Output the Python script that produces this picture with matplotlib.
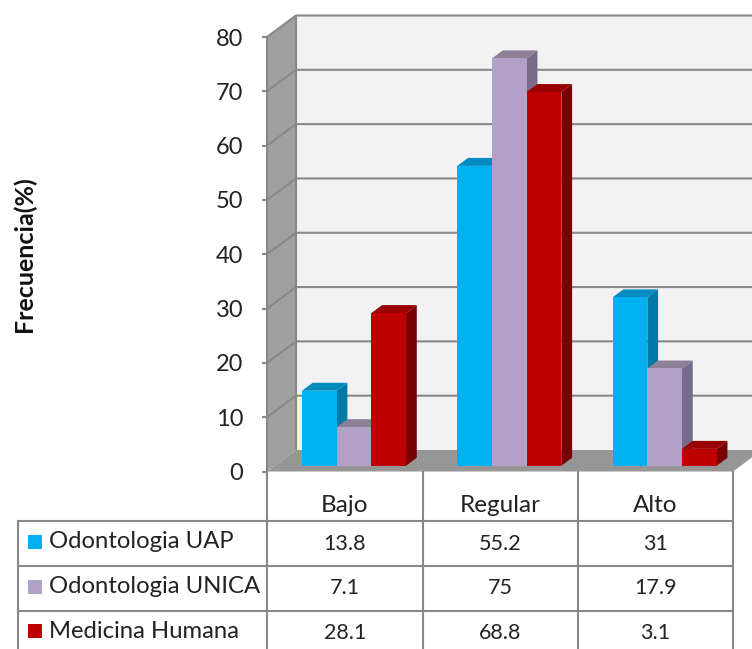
import matplotlib
matplotlib.use("Agg")
import matplotlib.pyplot as plt
from matplotlib.patches import Polygon, Rectangle

plt.rcParams['font.family'] = ['Lato', 'DejaVu Sans']

# --- Data ---
categories = ["Bajo", "Regular", "Alto"]
series_names = ["Odontologia UAP", "Odontologia UNICA", "Medicina Humana"]
uap = [13.8, 55.2, 31]
unica = [7.1, 75, 17.9]
medicina = [28.1, 68.8, 3.1]
y_ticks = [0, 10, 20, 30, 40, 50, 60, 70, 80]

# front, top and side shades per series
front_colors = ["#00B0F0", "#B1A0C7", "#C00000"]
top_colors = ["#008CBF", "#8D8099", "#990000"]
side_colors = ["#0079A6", "#786A8A", "#780000"]

LINE = "#888888"
WALL = "#F2F2F2"
SIDE_WALL = "#A0A0A0"
FLOOR = "#969696"
TEXT = "#222222"

W, H = 752, 649
fig = plt.figure(figsize=(W / 100, H / 100), dpi=100)

# front plane of the 3D box, in pixels
left, right, top, bottom = 267, 733, 37, 471.5
ax = fig.add_axes([left / W, 1 - bottom / H, (right - left) / W, (bottom - top) / H])
ax.set_xlim(0, 3)
ax.set_ylim(0, 80)
ax.patch.set_visible(False)
for s in ax.spines.values():
    s.set_visible(False)

# depth of the box in data units
px_per_cat = (right - left) / 3
dx = 29 / px_per_cat
dy = 21.5 / ((bottom - top) / 80)


def poly(pts, color, z):
    ax.add_patch(Polygon(pts, closed=True, facecolor=color, edgecolor="none", zorder=z, clip_on=False))


def line(xs, ys, z=2):
    ax.plot(xs, ys, color=LINE, lw=1.5, zorder=z, clip_on=False, solid_capstyle="butt")


# --- Walls and floor ---
poly([(dx, dy), (3.2, dy), (3.2, 80 + dy), (dx, 80 + dy)], WALL, 1)
poly([(0, 0), (dx, dy), (dx, 80 + dy), (0, 80)], SIDE_WALL, 1)
poly([(0, 0), (3, 0), (3 + dx, dy), (dx, dy)], FLOOR, 1)

for v in y_ticks[1:]:
    line([0, dx, 3.2], [v, v + dy, v + dy])
line([dx, dx], [dy, 80 + dy])
line([0, 0], [0, 80])

# --- Bars ---
bar_w = 34.7 / px_per_cat
bar_start = 0.27   # where the bars sit inside the depth of the box
bar_depth = 0.37
ox, oy = dx * bar_start + 1.5 / px_per_cat, dy * bar_start
bx, by = dx * bar_depth, dy * bar_depth

z = 3
for i in range(len(categories)):
    for j, values in enumerate([uap, unica, medicina]):
        x0 = i + 0.5 + (j - 1.5) * bar_w + ox
        x1 = x0 + bar_w
        v = values[i]
        poly([(x0, v + oy), (x1, v + oy), (x1 + bx, v + oy + by), (x0 + bx, v + oy + by)], top_colors[j], z)
        poly([(x1, oy), (x1 + bx, oy + by), (x1 + bx, v + oy + by), (x1, v + oy)], side_colors[j], z)
        ax.bar(x0, v, bar_w, bottom=oy, align="edge", color=front_colors[j], zorder=z + 0.5, clip_on=False)
        z += 1

# --- Axis ---
ax.set_xticks([])
ax.set_yticks(y_ticks)
ax.tick_params(axis="y", length=3.6, width=1.5, color=LINE, pad=13.5, labelsize=17, labelcolor=TEXT)
ax.text((24 - left) / px_per_cat, 40, "Frecuencia(%)", rotation=90, ha="center", va="center",
        fontsize=18, fontweight="bold", color="#111111")

# --- Data table, drawn in pixel coordinates ---
tb = fig.add_axes([0, 0, 1, 1])
tb.set_xlim(0, W)
tb.set_ylim(H, 0)
tb.axis("off")
tb.patch.set_visible(False)

col_x = [267, 422.5, 578, 733]
row_y = [520.5, 565.5, 610.5, 655]
table_left = 18

for x in col_x:
    tb.plot([x, x], [471.5, H], color=LINE, lw=1.5)
tb.plot([table_left, table_left], [row_y[0], H], color=LINE, lw=1.5)
for y in row_y[:-1]:
    tb.plot([table_left, right], [y, y], color=LINE, lw=1.5)

for c, name in enumerate(categories):
    tb.text((col_x[c] + col_x[c + 1]) / 2, 506, name, ha="center", va="center", fontsize=17.5, color=TEXT)

for r, values in enumerate([uap, unica, medicina]):
    yc = (row_y[r] + row_y[r + 1]) / 2 - 1.5
    tb.add_patch(Rectangle((28, yc - 7), 14, 14, facecolor=front_colors[r], edgecolor="none"))
    tb.text(49, yc, series_names[r], ha="left", va="center", fontsize=17.2, color=TEXT)
    for c, v in enumerate(values):
        tb.text((col_x[c] + col_x[c + 1]) / 2, yc + 2, f"{v:g}", ha="center", va="center", fontsize=15.5, color=TEXT)

fig.savefig("out.png", dpi=100)
